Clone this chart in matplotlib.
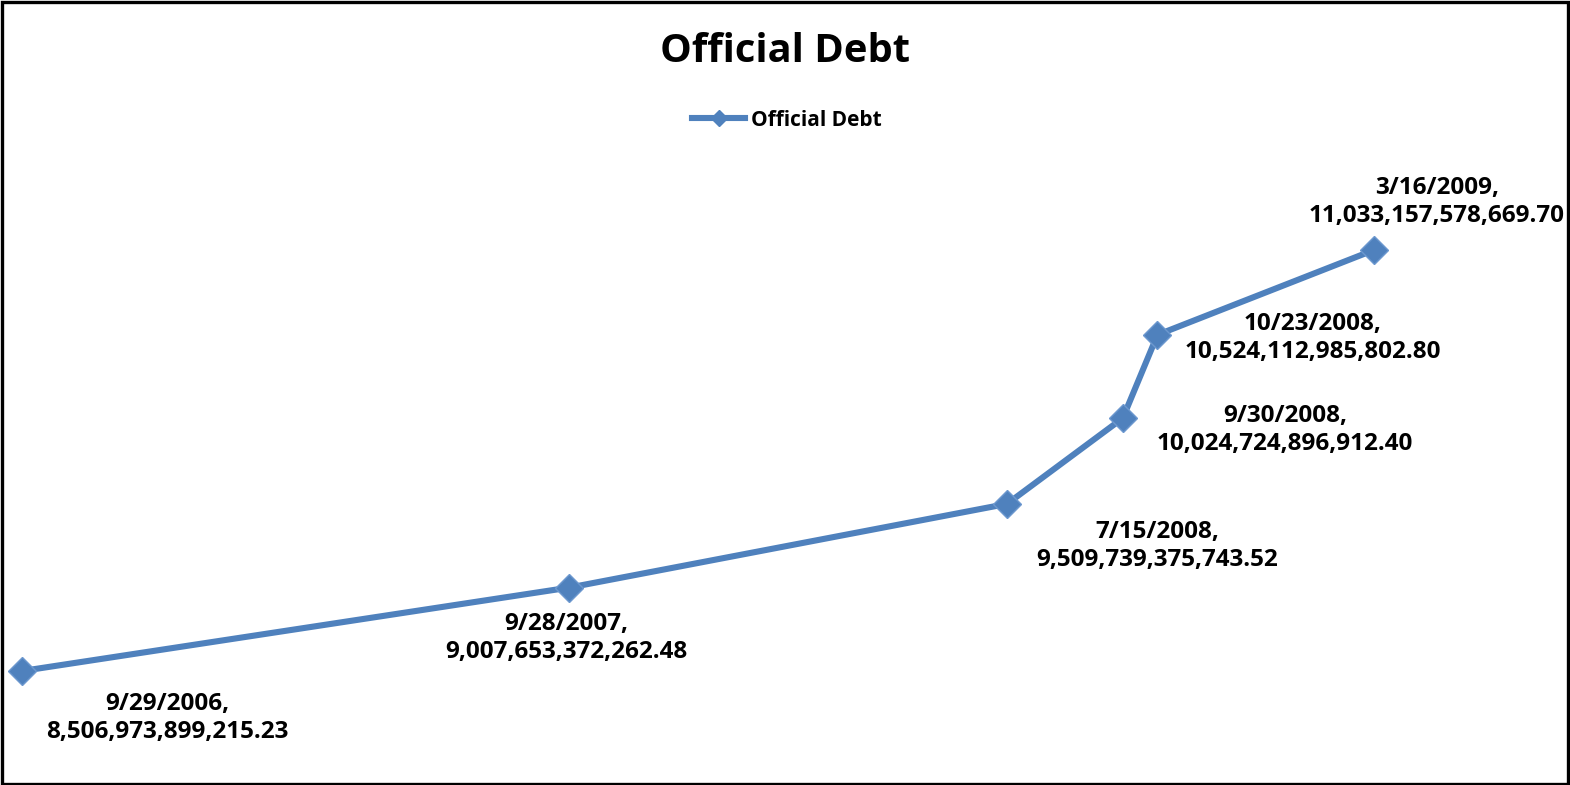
import matplotlib
matplotlib.use("Agg")
import matplotlib.pyplot as plt
import matplotlib.patches as patches
from matplotlib.lines import Line2D
import datetime as dt

# Datos de la serie (fecha, deuda oficial)
fechas = [dt.date(2006, 9, 29), dt.date(2007, 9, 28), dt.date(2008, 7, 15),
          dt.date(2008, 9, 30), dt.date(2008, 10, 23), dt.date(2009, 3, 16)]
deuda = [8506973899215.23, 9007653372262.48, 9509739375743.52,
         10024724896912.40, 10524112985802.80, 11033157578669.70]
titulo = "Official Debt"
serie = "Official Debt"

# Desplazamiento de cada etiqueta respecto a su punto (pixeles, y hacia abajo)
desplaz = [(145, 47), (-3, 50), (150, 42), (162, 12), (155, 3), (63, -48)]

AZUL = "#4F81BD"
W, H = 1570, 785
fig = plt.figure(figsize=(W / 100, H / 100), dpi=100)
fig.patch.set_facecolor("white")

# Area de trazado (sin ejes visibles)
x0, x1, ytop, ybot = 22, 1374, 250, 671
ax = fig.add_axes([x0 / W, 1 - ybot / H, (x1 - x0) / W, (ybot - ytop) / H])
ax.plot(fechas, deuda, color=AZUL, lw=4.4, marker="D", ms=14.5,
        mfc=AZUL, mec="#6C98CF", mew=1.0, clip_on=False, solid_joinstyle="round")
ax.margins(0)
ax.set_xlim(fechas[0], fechas[-1])
ax.set_ylim(deuda[0], deuda[-1])
ax.axis("off")

fuente = "Open Sans"
for f, v, (dx, dy) in zip(fechas, deuda, desplaz):
    txt = f"{f.month}/{f.day}/{f.year},\n{v:,.2f}"
    ax.annotate(txt, (f, v), xytext=(dx, -dy), textcoords="offset pixels",
                ha="center", va="center", fontsize=17.5, fontweight="bold",
                family=fuente, linespacing=1.22, annotation_clip=False)

# Titulo
fig.text(785 / W, 1 - 52 / H, titulo, ha="center", va="center",
         fontsize=28.7, fontweight="bold", family=fuente)

# Leyenda
h = Line2D([], [], color=AZUL, lw=4.4, marker="D", ms=8, mfc=AZUL, mec=AZUL)
fig.legend([h], [serie], loc="center", bbox_to_anchor=(787 / W, 1 - 120 / H),
           frameon=False, handlelength=2.5, handletextpad=0.3,
           prop={"family": fuente, "weight": "bold", "size": 15})

# Borde de la figura
borde = patches.Rectangle((1.5 / W, 1.5 / H), 1 - 4 / W, 1 - 3.5 / H,
                          transform=fig.transFigure, fill=False,
                          edgecolor="black", lw=2.4)
fig.patches.append(borde)

fig.savefig("out.png", dpi=100, facecolor="white")
